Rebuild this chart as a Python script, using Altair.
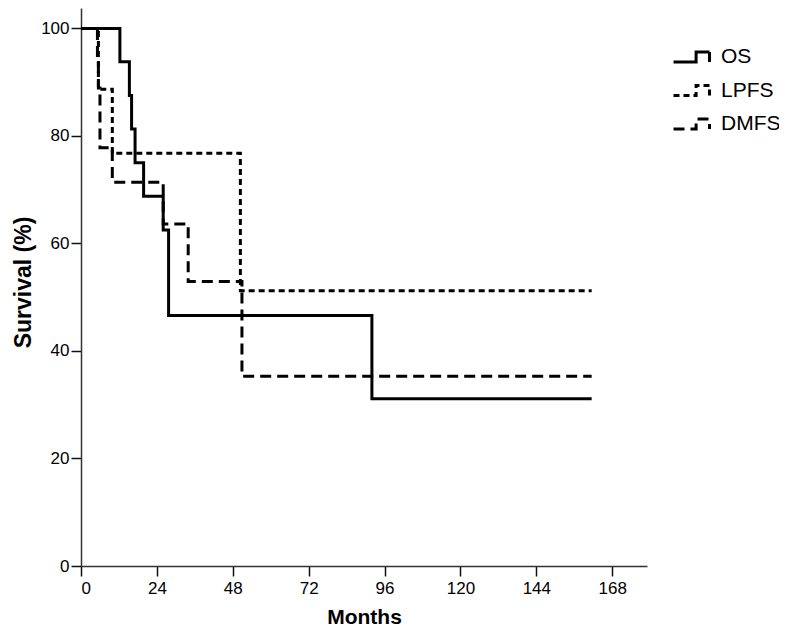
import altair as alt
import pandas as pd

# ---- data ----
series = ["OS", "LPFS", "DMFS"]

os_months = [0, 12.3, 15.3, 16.0, 17.1, 19.8, 26.0, 27.7, 92.0, 161.5]
os_surv = [100, 93.8, 87.5, 81.3, 75.0, 68.8, 62.5, 46.6, 31.1, 31.1]

lpfs_months = [0, 5.5, 9.9, 50.4, 161.5]
lpfs_surv = [100, 88.7, 76.8, 51.2, 51.2]

dmfs_months = [0, 5.2, 5.5, 6.0, 9.9, 26.0, 33.9, 50.9, 161.5]
dmfs_surv = [100, 94.4, 88.9, 77.8, 71.4, 63.6, 52.9, 35.3, 35.3]

x_ticks = [0, 24, 48, 72, 96, 120, 144, 168]
y_ticks = [0, 20, 40, 60, 80, 100]

rows = []
for name, ms, ss in [("OS", os_months, os_surv),
                     ("LPFS", lpfs_months, lpfs_surv),
                     ("DMFS", dmfs_months, dmfs_surv)]:
    for i, (m, s) in enumerate(zip(ms, ss)):
        rows.append({"Series": name, "Months": m, "Survival": s, "idx": i})
df = pd.DataFrame(rows)

regular = "Liberation Sans, Arial, sans-serif"

legend = alt.Legend(
    title=None,
    orient="none",
    legendX=591,
    legendY=39,
    padding=0,
    symbolType="M-1,0.25L0.13,0.25L0.13,-0.25L0.8,-0.25L0.8,0.25",
    symbolSize=1600,
    symbolStrokeWidth=3,
    symbolStrokeColor="black",
    symbolFillColor="transparent",
    labelFont=regular,
    labelFontSize=21,
    labelColor="black",
    labelOffset=6,
    clipHeight=20,
    rowPadding=12.5,
)

chart = (
    alt.Chart(df)
    .mark_line(interpolate="step-after", strokeWidth=3, color="black", strokeCap="butt")
    .encode(
        x=alt.X(
            "Months:Q",
            scale=alt.Scale(domain=[0, 179], nice=False, zero=False),
            axis=alt.Axis(
                values=x_ticks,
                title="Months",
                titleY=40,
                titleBaseline="top",
                labelFont=regular,
                labelFontSize=17,
                labelPadding=4,
                tickSize=10,
                titleFont=regular,
                titleFontSize=21,
                titleFontWeight="bold",
            ),
        ),
        y=alt.Y(
            "Survival:Q",
            scale=alt.Scale(domain=[0, 103.8], nice=False),
            axis=alt.Axis(
                values=y_ticks,
                title="Survival (%)",
                titleX=-58,
                titleY=274,
                titleAngle=270,
                titleAlign="center",
                titleBaseline="middle",
                labelFont=regular,
                labelFontSize=17,
                labelPadding=2,
                tickSize=10,
                titleFont=regular,
                titleFontSize=23,
                titleFontWeight="bold",
            ),
        ),
        strokeDash=alt.StrokeDash(
            "Series:N",
            scale=alt.Scale(domain=series, range=[[1, 0], [6, 4], [11, 6]]),
            legend=legend,
        ),
        order="idx:Q",
    )
    .properties(
        width=566,
        height=558,
        autosize="none",
        padding={"left": 73, "top": 0, "right": 132, "bottom": 65},
        background="white",
    )
    .configure_view(stroke=None)
    .configure_axis(
        grid=False,
        domainColor="#333333",
        domainWidth=1.5,
        tickColor="#111111",
        tickWidth=1.5,
        labelColor="black",
        titleColor="black",
    )
)

chart.save("out.html", embed_options={"renderer": "svg", "actions": False})
